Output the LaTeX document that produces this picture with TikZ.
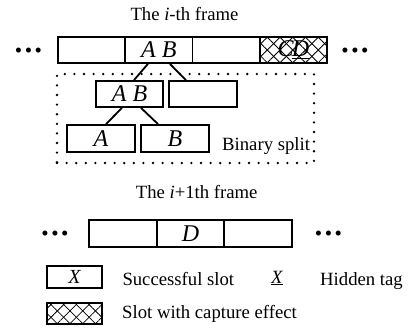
\documentclass[tikz,border=0pt]{standalone}
\usepackage{fontspec}
\setmainfont{Liberation Serif}
\usetikzlibrary{patterns.meta}
\begin{document}
\begin{tikzpicture}[x=1pt,y=-1pt,
  slot/.style={draw,line width=1.8pt,minimum width=67.3pt,minimum height=26pt,inner sep=0pt,font=\fontsize{24}{24}\selectfont\itshape},
  lbl/.style={inner sep=0pt,font=\fontsize{18.7}{20}\selectfont},
  dotsl/.style={inner sep=0pt,anchor=base,font=\fontsize{21}{21}\selectfont},
  conn/.style={line width=1.8pt},
  hatch/.style={postaction={pattern={Lines[angle=45,distance=9pt,line width=0.8pt]}},
                postaction={pattern={Lines[angle=-45,distance=9pt,line width=0.8pt]}}},
  dotbox/.style={draw,line width=2.6pt,dash pattern=on 0pt off 9.6pt,line cap=round,inner sep=0pt}
  ]
\useasboundingbox (0,0) rectangle (409,330);
% top frame
\node[lbl,anchor=base] (t1) at (184.5,20) {The \textit{i}-th frame};
\node[dotsl] (d1) at (28.5,57.5) {\textbullet\kern2.5pt\textbullet\kern2.5pt\textbullet};
\node[slot] (s1) at (91.6,50) {};
\node[slot] (s2) at (158.9,50) {A B};
\node[slot] (s3) at (226.1,50) {};
\node[slot,hatch] (s4) at (293.4,50) {C\kern-2pt\underline{D}};
\node[dotsl] (d2) at (355,57.5) {\textbullet\kern2.5pt\textbullet\kern2.5pt\textbullet};
% binary split
\node[dotbox,minimum width=257pt,minimum height=89pt] (split) at (185.5,118.5) {};
\node[slot] (ab) at (129.5,94) {A B};
\node[slot] (e2) at (203,94) {};
\node[slot,minimum height=27pt] (a) at (101,138.5) {A};
\node[slot,minimum height=27pt] (b) at (175,138.5) {B};
\draw[conn] ([xshift=-11pt]s2.south) -- ([xshift=4.5pt]ab.north);
\draw[conn] ([xshift=11pt]s2.south) -- ([xshift=-17pt]e2.north);
\draw[conn] ([xshift=-7.5pt]ab.south) -- ([xshift=5pt]a.north);
\draw[conn] ([xshift=11.5pt]ab.south) -- ([xshift=-17pt]b.north);
\node[lbl,anchor=base west] (bs) at (222,150.3) {Binary split};
% next frame
\node[lbl,anchor=base] (t2) at (196.7,198) {The \textit{i}+1th frame};
\node[dotsl] (d3) at (55,240) {\textbullet\kern2.5pt\textbullet\kern2.5pt\textbullet};
\node[slot,minimum height=27pt] (f1) at (123,233.5) {};
\node[slot,minimum height=27pt] (f2) at (190.5,233.5) {D};
\node[slot,minimum height=27pt] (f3) at (258,233.5) {};
\node[dotsl] (d4) at (328.5,240) {\textbullet\kern2.5pt\textbullet\kern2.5pt\textbullet};
% legend
\node[slot,minimum width=55pt,minimum height=22pt,font=\fontsize{20}{20}\selectfont\itshape] (lx) at (74.5,277) {X};
\node[lbl,anchor=base west] (ls) at (122.3,285) {Successful slot};
\node[lbl,anchor=base west] (hx) at (271,283) {\textit{\underline{X}}};
\node[lbl,anchor=base west] (ht) at (320,285) {Hidden tag};
\node[slot,hatch,minimum width=55pt,minimum height=21pt] (lh) at (74.5,313.5) {};
\node[lbl,anchor=base west] (lc) at (122,318) {Slot with capture effect};
\end{tikzpicture}
\end{document}
